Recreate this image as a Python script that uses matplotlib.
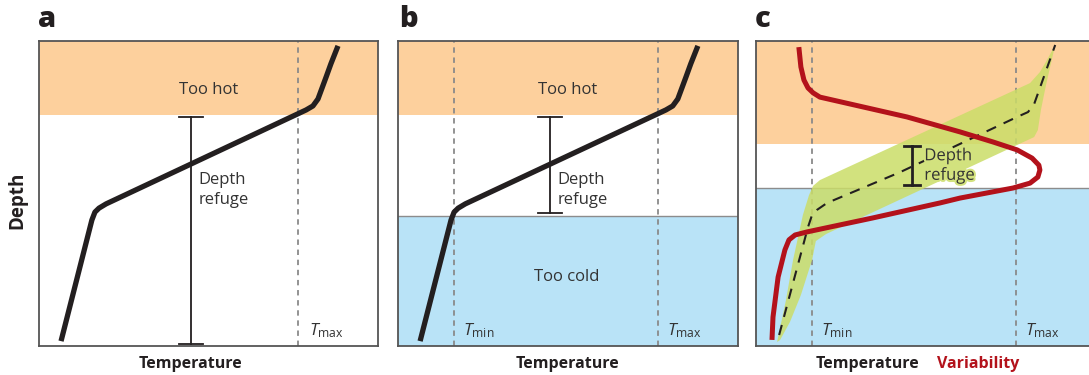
import numpy as np
import matplotlib
matplotlib.use('Agg')
import matplotlib.pyplot as plt
import matplotlib.patheffects as pe

plt.rcParams['font.family'] = ['Open Sans', 'DejaVu Sans']
plt.rcParams['mathtext.fontset'] = 'custom'
plt.rcParams['mathtext.rm'] = 'Open Sans'
plt.rcParams['mathtext.it'] = 'Open Sans:italic'

# Temperature profile used in panels a and b (temperature 0-100, depth 0-100 top->bottom)
prof_T = [6.5, 15.6, 16.5, 17.7, 19.8, 78.8, 80.8, 82.3, 83.5, 84.7, 86.1, 88.2]
prof_D = [98.4, 58.7, 56.1, 54.8, 53.4, 22.6, 21.3, 19.0, 15.4, 11.8, 7.5, 1.6]

# panel c: mean profile (dashed)
mean_T = [6.8, 10.9, 15.3, 16.5, 17.9, 20.9, 42.4, 76.8, 80.0, 81.8, 88.0]
mean_D = [96.4, 79.3, 61.0, 57.0, 55.4, 53.1, 43.0, 24.9, 23.3, 20.7, 1.3]

# panel c: green envelope (left/upper edge bottom->top, right/lower edge top->bottom)
band_left_T = [6.2, 8.8, 10.9, 13.8, 15.6, 16.8, 18.8, 80.6, 83.5, 85.6, 88.0]
band_left_D = [98.7, 85.0, 71.8, 57.0, 50.5, 47.5, 45.6, 13.8, 10.2, 6.2, 1.3]
band_right_T = [87.1, 85.3, 83.8, 82.9, 81.8, 20.6, 17.6, 16.5, 13.2, 10.0, 7.1]
band_right_D = [5.6, 14.4, 22.6, 29.2, 31.5, 63.3, 65.6, 71.8, 83.3, 92.1, 98.0]

# panel c: variability (red)
var_T = [12.6, 13.2, 14.1, 15.3, 16.8, 18.8, 44.4, 60.0, 69.7, 76.8, 81.2, 83.2, 83.5,
         82.9, 80.6, 75.6, 60.0, 54.1, 34.4, 15.0, 11.5, 9.7, 8.5, 6.5, 5.0, 4.7]
var_D = [2.0, 8.5, 12.8, 15.4, 17.0, 18.4, 24.9, 29.8, 33.1, 35.7, 38.4, 40.7, 42.3,
         44.6, 46.6, 48.2, 51.5, 53.1, 58.0, 62.6, 63.6, 65.2, 68.5, 77.4, 90.5, 98.0]

T_min = 16.5
T_max = 76.5

# zones (depth limits)
hot_a = 24.3
cold_b = 57.4
hot_c = 33.8
cold_c = 48.2

# refuge bars (T, top, bottom)
bar_a = (44.8, 24.9, 99.3)
bar_b = (44.7, 24.9, 56.4)
bar_c = (45.9, 34.4, 47.2)

ORANGE = '#fdd09d'
BLUE = '#b9e3f7'
GREEN = '#cbdd68'
RED = '#b3121b'
INK = '#231f20'
GREY = '#8a8a8a'
TXT = '#333333'

fig = plt.figure(figsize=(10.89, 3.75), dpi=100)
bottom = 29 / 375
height = 305 / 375
axa = fig.add_axes([39 / 1089, bottom, 339 / 1089, height])
axb = fig.add_axes([398 / 1089, bottom, 340 / 1089, height])
axc = fig.add_axes([756 / 1089, bottom, 340 / 1089, height])

for ax in (axa, axb, axc):
    ax.set_xlim(0, 100)
    ax.set_ylim(100, 0)
    ax.set_xticks([])
    ax.set_yticks([])
    for s in ax.spines.values():
        s.set_color('#555555')
        s.set_linewidth(1.3)
        s.set_zorder(10)


def vdash(ax, x):
    ax.axvline(x, color=GREY, lw=1.3, ls=(0, (3, 2.6)), zorder=2)


def tlabel(ax, x, y, sub):
    ax.text(x, y, r'$T_{\rm ' + sub + '}$', fontsize=12.5, color=TXT,
            ha='left', va='baseline', zorder=6)


def refuge_bar(ax, bar, cap, lw):
    x, top, bot = bar
    ax.plot([x, x], [top, bot], color=INK, lw=lw, zorder=5)
    ax.plot([x - cap, x + cap], [top, top], color=INK, lw=lw, zorder=5)
    ax.plot([x - cap, x + cap], [bot, bot], color=INK, lw=lw, zorder=5)


# ---- panel a
axa.axhspan(0, hot_a, color=ORANGE, lw=0, zorder=0)
vdash(axa, T_max)
axa.plot(prof_T, prof_D, color=INK, lw=3.8, solid_capstyle='butt', solid_joinstyle='round', zorder=4)
refuge_bar(axa, bar_a, 3.5, 1.3)
axa.text(50, 16.0, 'Too hot', fontsize=12, color=TXT, ha='center', va='center')
axa.text(47.0, 45.6, 'Depth', fontsize=12, color=TXT, ha='left', va='center')
axa.text(47.0, 52.0, 'refuge', fontsize=12, color=TXT, ha='left', va='center')
tlabel(axa, 79.5, 96.5, 'max')

# ---- panel b
axb.axhspan(0, hot_a, color=ORANGE, lw=0, zorder=0)
axb.axhspan(cold_b, 100, color=BLUE, lw=0, zorder=0)
axb.axhline(cold_b, color='#8c8c8c', lw=1.0, zorder=1)
vdash(axb, T_min)
vdash(axb, T_max)
axb.plot(prof_T, prof_D, color=INK, lw=3.8, solid_capstyle='butt', solid_joinstyle='round', zorder=4)
refuge_bar(axb, bar_b, 3.5, 1.3)
axb.text(50, 16.0, 'Too hot', fontsize=12, color=TXT, ha='center', va='center')
axb.text(49.7, 77.5, 'Too cold', fontsize=12, color=TXT, ha='center', va='center')
axb.text(47.0, 45.6, 'Depth', fontsize=12, color=TXT, ha='left', va='center')
axb.text(47.0, 52.0, 'refuge', fontsize=12, color=TXT, ha='left', va='center')
tlabel(axb, 19.0, 96.5, 'min')
tlabel(axb, 79.0, 96.5, 'max')

# ---- panel c
axc.axhspan(0, hot_c, color=ORANGE, lw=0, zorder=0)
axc.axhspan(cold_c, 100, color=BLUE, lw=0, zorder=0)
axc.axhline(cold_c, color='#8c8c8c', lw=1.0, zorder=1)
vdash(axc, T_min)
vdash(axc, T_max)
axc.fill(np.concatenate([band_left_T, band_right_T]),
         np.concatenate([band_left_D, band_right_D]),
         color=GREEN, alpha=0.85, lw=0, zorder=3)
axc.plot(mean_T, mean_D, color=INK, lw=1.5, ls=(0, (5, 4)), zorder=4)
axc.plot(var_T, var_D, color=RED, lw=3.6, solid_capstyle='butt', solid_joinstyle='round', zorder=5)
refuge_bar(axc, bar_c, 2.3, 2.0)
halo = [pe.withStroke(linewidth=3, foreground='#d3e27e')]
axc.text(49.5, 37.8, 'Depth', fontsize=12, color=TXT, ha='left', va='center', path_effects=halo, zorder=6)
axc.text(49.5, 44.2, 'refuge', fontsize=12, color=TXT, ha='left', va='center', path_effects=halo, zorder=6)
tlabel(axc, 19.0, 96.5, 'min')
tlabel(axc, 79.0, 96.5, 'max')

# ---- labels
for x, lab in ((47, 'a'), (408, 'b'), (763, 'c')):
    fig.text(x / 1089, 1 - 27 / 375, lab, fontsize=21, fontweight='heavy', color=INK,
             ha='center', va='baseline')

for x in (191, 567, 867):
    fig.text(x / 1089, 1 - 364 / 375, 'Temperature', fontsize=11.5, fontweight='bold',
             color=INK, ha='center', va='center')
fig.text(978 / 1089, 1 - 364 / 375, 'Variability', fontsize=11.5, fontweight='bold',
         color=RED, ha='center', va='center')
fig.text(17 / 1089, 1 - 200 / 375, 'Depth', fontsize=13.5, fontweight='bold',
         color=INK, ha='center', va='center', rotation=90)

fig.savefig('out.png', dpi=100)
